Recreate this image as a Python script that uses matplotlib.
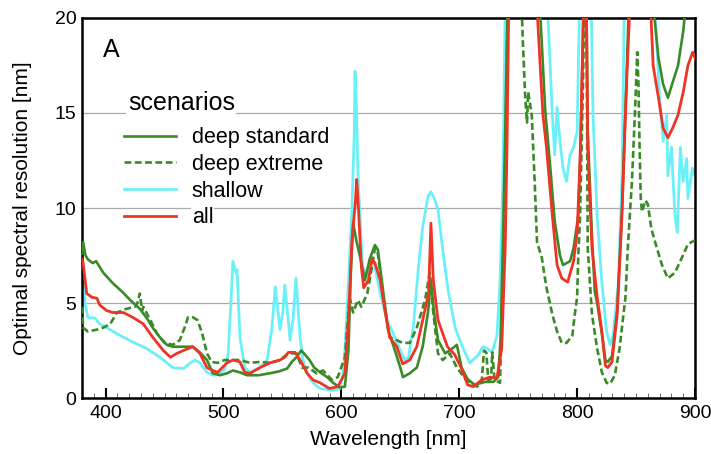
import numpy as np
import matplotlib.pyplot as plt

plt.rcParams['font.family'] = ['Liberation Sans', 'DejaVu Sans']

# values (values > 20 are off the top of the axes)
wl_std = [380, 381, 383, 385, 389, 392, 398, 406, 414, 421, 429, 435, 440, 446, 452, 457,
          465, 474, 480, 486, 491, 497, 503, 508, 514, 520, 530, 539, 547, 554, 558, 562,
          566, 569, 573, 577, 582, 588, 593, 599, 603, 606, 608, 610, 612.7, 616, 620, 624,
          628.5, 631, 635, 639.6, 645.5, 650, 652.3, 658, 664, 669, 673.5, 676, 678.6, 682,
          688, 694, 698, 702, 707, 713, 722, 729, 733, 735, 737, 739, 741, 755, 768.5, 773,
          777, 781, 785.5, 788, 794, 797, 801, 803, 805, 806.5, 808, 809, 812.6, 815, 817,
          821, 824, 826, 829.6, 834, 838, 842, 844, 854, 864, 869, 873, 877, 881, 885.6,
          890, 892, 900]
deep_std = [7.6, 8.2, 7.5, 7.3, 7.1, 7.2, 6.6, 6.05, 5.6, 5.15, 4.7, 4.2, 3.7, 3.2, 2.8, 2.7,
            2.7, 2.7, 2.4, 2.0, 1.3, 1.2, 1.3, 1.45, 1.35, 1.2, 1.2, 1.3, 1.4, 1.55, 1.9, 2.15,
            2.5, 2.3, 2.0, 1.6, 1.35, 1.1, 0.8, 0.55, 0.6, 2.5, 6.5, 9.2, 8.3, 7.4, 6.2, 7.3,
            8.05, 7.8, 5.85, 3.6, 2.5, 1.6, 1.1, 1.3, 1.6, 2.7, 4.5, 6.2, 4.5, 3.05,
            2.35, 2.6, 2.8, 1.6, 1.0, 0.7, 0.85, 0.85, 1.1, 3.0, 7.9, 14, 20.5, 30, 20.5, 15.1,
            12.3, 9.3, 7.5, 7.0, 7.2, 7.9, 9.6, 13.5, 19, 25, 20, 14, 8.5, 5.6, 5.0,
            3.4, 2.0, 1.9, 2.2, 4.6, 9.8, 17, 21, 30, 21, 17.9, 16.5, 15.8, 16.6, 17.5,
            19.3, 20.5, 24]

wl_ext = [380, 381, 385, 392.7, 398, 404, 409.7, 418, 425, 427, 429, 431, 432, 438, 443.6, 450,
          457, 463, 467, 470, 474, 478, 482, 486, 490, 495, 501, 505.6, 514, 522.5, 531, 539.5,
          548, 555, 562, 566.6, 572, 579, 584.5, 592, 597, 603, 607, 610, 614, 617, 622, 626,
          628.5, 631, 635, 641, 647, 652, 658, 664, 671, 675, 678, 682, 686, 692, 698, 706,
          715, 719, 721, 723, 724.6, 727, 728, 730, 734.6, 736, 739, 741, 747, 753, 754, 756,
          757.5, 758.5, 761.5, 764, 766, 770, 774, 779, 783, 787, 791, 796, 798, 800, 801,
          802.5, 805, 806, 807, 808, 809, 812.6, 817, 821, 825, 828, 832, 836, 841, 843,
          846.5, 849, 851, 852, 853, 854, 855, 858, 860, 863, 867.6, 872, 877, 883, 889,
          894, 900]
deep_ext = [4.8, 3.7, 3.5, 3.6, 3.7, 3.9, 4.5, 4.7, 4.8, 5.0, 5.5, 4.6, 4.8, 4.1, 3.4, 2.9,
            2.8, 3.05, 3.7, 4.25, 4.25, 4.1, 3.4, 2.35, 1.9, 1.85, 2.0, 2.0, 2.0, 1.85, 1.9, 1.85,
            2.0, 2.35, 2.35, 1.6, 1.6, 1.3, 1.45, 0.95, 1.1, 2.15, 5.3, 4.5, 5.15, 4.8, 5.5, 6.9,
            7.9, 7.6, 5.5, 3.2, 3.05, 2.9, 2.9, 3.7, 5.15, 6.6, 4.5, 2.35, 2.0, 2.35, 1.6, 0.95,
            0.6, 0.8, 2.5, 2.4, 0.95, 1.0, 2.4, 0.95, 0.8, 4.4, 11.4, 20.5, 30, 20.5, 18.7, 15.8,
            14.5, 16.1, 14.9, 11.4, 8.2, 7.4, 5.8, 4.4, 3.5, 2.9, 2.9, 3.3, 4.4, 5.3, 7.5,
            9.6, 16.6, 20.5, 25, 20.5, 7.9, 4.4, 2.6, 1.35, 0.8, 0.75, 1.2, 2.6, 5.3, 7.9,
            11.4, 14.9, 18.2, 16.6, 13.2, 10.5, 9.8, 10.4, 10.2, 8.9, 7.9, 7.0, 6.3, 6.6, 7.4,
            8.1, 8.3]

wl_sh = [380, 382.5, 385, 391, 395, 401, 412, 423, 435, 446, 457, 466, 472, 476, 480, 486,
         491, 497, 501, 504, 507, 508, 510.6, 511.5, 514, 518, 522.5, 531, 537, 541, 544, 545.5,
         548, 550.5, 552, 555, 556.5, 559, 561.5, 565, 567.5, 571, 576, 582, 593, 599, 602, 605,
         609, 611, 611.6, 613, 614, 616, 618, 622, 626, 628.5, 633, 638.7, 644, 650, 654, 657,
         661, 665, 669, 673.5, 676, 679.5, 682, 686, 690.5, 696.5, 702, 709, 716, 720, 724, 728,
         732, 734.6, 737, 739, 757, 775, 779, 781, 783, 785.5, 788, 791, 794, 797, 800, 802,
         807, 812, 813.5, 817, 821, 825, 828, 830.5, 835, 838, 839, 840, 855, 866, 870, 873,
         876, 877, 880, 883, 885, 887.6, 890, 893, 894, 897.8, 900]
shallow = [7.4, 5.0, 4.25, 4.2, 3.9, 3.7, 3.3, 2.95, 2.6, 2.15, 1.6, 1.55, 1.85, 2.0, 1.85, 1.35,
           1.2, 1.3, 1.5, 2.35, 5.85, 7.2, 6.6, 6.75, 3.2, 1.6, 1.35, 1.6, 2.0, 3.6, 5.85, 5.0,
           3.6, 4.6, 5.95, 4.1, 3.05, 4.1, 6.3, 3.2, 2.0, 1.3, 0.8, 0.5, 0.4, 0.5, 1.5, 4.8,
           10, 14, 17.2, 15, 12, 9.2, 6.9, 6.4, 7.4, 6.9, 5.5, 4.1, 3.4, 2.5, 2.0, 2.15,
           3.7, 6.6, 9.0, 10.6, 10.85, 10.4, 9.9, 7.8, 5.7, 3.7, 2.8, 1.85, 2.25, 2.7, 2.6, 2.4,
           3.3, 6.1, 11.4, 20.5, 30, 20.5, 14.9, 12.8, 15.3, 13.5, 12.1, 11.4, 12.8, 13.2, 14, 20.5,
           30, 20.5, 14.9, 9.6, 6.1, 3.5, 2.8, 3.3, 6.1, 11.4, 15.8, 20.5, 30, 20.5, 15.8, 13.5,
           14.9, 11.7, 13.2, 9.6, 8.7, 13.2, 11.4, 12.6, 10.5, 12.1, 11.7]

wl_all = [380, 381, 384, 388.5, 392.7, 395, 401, 406, 415, 423, 432, 440, 449, 455, 460.6, 466,
          474, 480, 486, 491, 495, 503, 508, 514, 518, 522.5, 531, 539.5, 548, 552, 555, 560.7,
          565, 571, 576, 582, 590, 597, 603, 606, 609, 612, 613, 614.5, 617, 619, 623, 626,
          628.5, 633, 637, 641, 647, 652, 658, 664, 669, 674, 676, 678, 682, 690, 696, 702,
          707, 712, 719, 726, 732, 736, 739, 740.5, 742, 754, 766, 771, 774, 779, 783, 787,
          792, 797, 800, 802.5, 805, 806.5, 808, 809, 812.6, 817, 821, 824, 826, 829.6, 834,
          838, 842, 845, 853, 862, 864.5, 869, 873, 877, 881, 885.6, 890, 894, 898, 900]
all_sc = [7.3, 7.1, 5.5, 5.3, 5.25, 4.9, 4.6, 4.5, 4.5, 4.25, 3.9, 3.2, 2.5, 2.15, 2.35, 2.5,
          2.7, 2.35, 1.6, 1.45, 1.35, 1.85, 2.0, 1.9, 1.35, 1.3, 1.6, 1.85, 2.0, 2.15, 2.4, 2.4,
          2.0, 1.3, 0.95, 0.8, 0.5, 0.6, 1.3, 4.1, 8.3, 10.4, 11.5, 10, 6.9, 5.8, 6.2, 7.3,
          7.1, 6.2, 4.6, 3.2, 2.7, 1.8, 2.0, 2.7, 4.1, 5.5, 9.2, 6.2, 4.1, 2.7, 2.3, 1.55,
          0.7, 0.6, 0.95, 1.1, 1.05, 2.6, 7.9, 13.2, 20.5, 30, 20.5, 14.9, 13.2, 9.6, 7.0, 6.3,
          6.1, 7.2, 8.7, 12.5, 19.3, 25, 20, 13.2, 7.9, 5.3, 3.5, 1.7, 1.6, 1.9, 4.4,
          9.6, 16.6, 21, 30, 21, 17.5, 15.8, 14.2, 13.7, 14.2, 14.9, 16.1, 17.5, 18.2, 17.9]

green = '#3a8a28'
cyan = '#6cf0f8'
red = '#ee3424'

fig = plt.figure(figsize=(7.11, 4.54), dpi=100)
ax = fig.add_axes([0.1153, 0.1233, 0.8622, 0.8371])

ax.plot(wl_sh, shallow, color=cyan, lw=2.0, label='shallow', zorder=2)
ax.plot(wl_ext, deep_ext, color=green, lw=1.9, ls=(0, (2.6, 1.3)), label='deep extreme', zorder=3)
ax.plot(wl_std, deep_std, color=green, lw=1.9, label='deep standard', zorder=3)
ax.plot(wl_all, all_sc, color=red, lw=2.0, label='all', zorder=4)

ax.set_xlim(380, 900)
ax.set_ylim(0, 20)
ax.set_xticks([400, 500, 600, 700, 800, 900])
ax.set_xticks(np.arange(380, 901, 10), minor=True)
ax.set_yticks([0, 5, 10, 15, 20])
ax.tick_params(axis='x', which='major', direction='in', length=7, width=1.5, labelsize=14, pad=5)
ax.tick_params(axis='x', which='minor', direction='in', length=3.5, width=0.6, color='#555555')
ax.tick_params(axis='y', length=0, labelsize=14, pad=4)
ax.grid(axis='y', color='#aaaaaa', lw=0.9)
ax.set_axisbelow(True)
for s in ax.spines.values():
    s.set_linewidth(1.8)

ax.set_xlabel('Wavelength [nm]', fontsize=15, labelpad=6)
ax.set_ylabel('Optimal spectral resolution [nm]', fontsize=15, labelpad=16)

ax.text(0.035, 0.915, 'A', transform=ax.transAxes, fontsize=18, va='center')

# legend title drawn as its own text (sits on the 15 gridline with a white background)
ax.text(0.075, 0.776, 'scenarios', transform=ax.transAxes, fontsize=18, va='center',
        bbox=dict(facecolor='white', edgecolor='none', pad=1), zorder=5)

handles, labels = ax.get_legend_handles_labels()
order = [2, 1, 0, 3]
leg = ax.legend([handles[i] for i in order], [labels[i] for i in order],
                loc='upper left', bbox_to_anchor=(0.0685, 0.712),
                frameon=False, fontsize=15.5, handlelength=2.4, borderpad=0,
                handletextpad=0.75, labelspacing=0.26, borderaxespad=0)
for t in leg.get_texts():
    t.set_bbox(dict(facecolor='white', edgecolor='none', pad=0.5))
leg.set_zorder(5)

fig.savefig('out.png', dpi=100)
